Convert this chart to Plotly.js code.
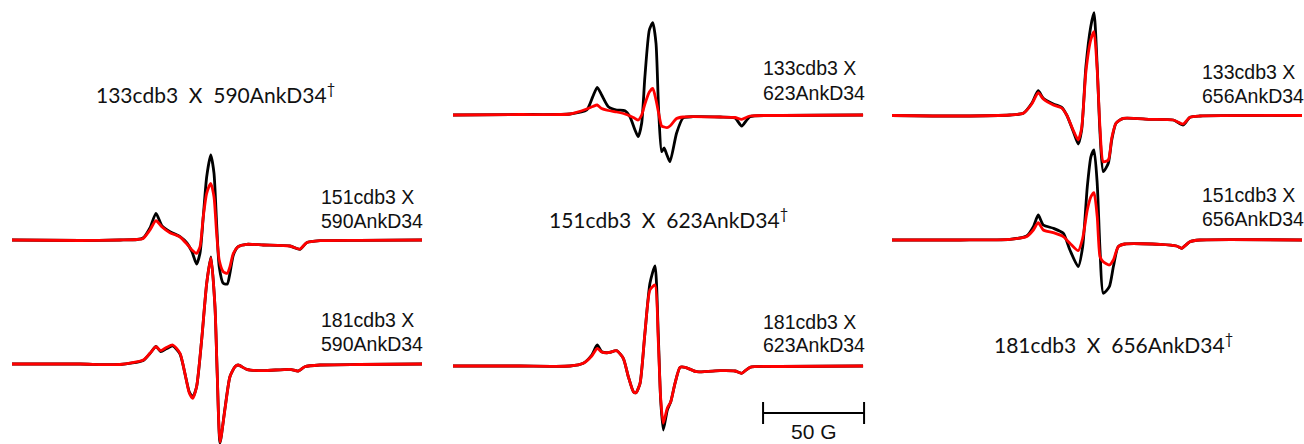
<!DOCTYPE html>
<html><head><meta charset="utf-8">
<script src="https://cdn.plot.ly/plotly-3.0.1.min.js"></script>
<style>html,body{margin:0;padding:0;background:#fff;overflow:hidden;} #chart{width:1304px;height:444px;}</style>
</head><body><div id="chart"></div>
<script>
// ---- Data: magnetic field (G) and EPR derivative intensity (a.u.) ----
// Column 1 : 590AnkD34
const field151x590 = [3260.0, 3293.7, 3313.5, 3321.9, 3324.9, 3328.3, 3331.3, 3334.3, 3338.2, 3343.2, 3346.6, 3349.1, 3351.4, 3353.1, 3354.7, 3356.4, 3358.4, 3360.0, 3361.3, 3362.6, 3364.6, 3366.6, 3367.9, 3369.6, 3372.0, 3376.2, 3384.4, 3397.6, 3402.6, 3405.9, 3412.5, 3432.3, 3463.0];
const black151x590 = [0, -0.5, 0, 0.5, 2, 12, 26.7, 14, 8.3, 3.3, -3, -11.7, -24, -13, 23.3, 63.3, 85, 67, 17, -26.7, -43.3, -44, -33.3, -15, -6.7, -4.3, -5, -6, -9.3, -2.7, -0.7, -0.3, 0];
const red151x590   = [0, -0.5, 0, 0.5, 1.5, 10, 19.3, 13, 7.3, 3, -4, -10, -13.3, -6.7, 23.3, 46.7, 56.7, 43.3, 7, -20, -31.7, -33.3, -26.7, -13.3, -6.7, -4.3, -5, -6, -9, -2.7, -0.7, -0.3, 0];

const field181x590 = [3260.0, 3293.7, 3313.5, 3325.0, 3328.3, 3331.3, 3333.6, 3336.6, 3339.6, 3343.2, 3345.6, 3347.8, 3349.5, 3351.4, 3353.9, 3356.4, 3358.5, 3360.5, 3361.6, 3363.0, 3365.4, 3367.9, 3370.4, 3372.0, 3376.2, 3384.4, 3397.6, 3401.7, 3405.0, 3412.5, 3432.3, 3463.0];
const black181x590 = [0, 0, -0.5, 3.5, 10.5, 17.5, 12.5, 15.5, 18, 10, -9.3, -28, -33, -22.7, 24, 80.7, 107, 57.3, -9.3, -79, -45, -12.7, -2.7, -1, -5.3, -6.7, -5.3, -7, -2.7, -1, -0.5, 0];
const red181x590   = [0, 0, -0.5, 4, 10.7, 17.3, 13.3, 16.7, 19, 10.7, -9.3, -29.3, -34.3, -22.7, 24, 80.7, 106, 57.3, -9.3, -78, -46, -12.7, -2.7, -1, -5.3, -6.7, -5.3, -7, -2.7, -1, -0.5, 0];

// Column 2 : 623AnkD34
const field133x623 = [3260.0, 3293.2, 3317.9, 3326.2, 3329.2, 3331.4, 3333.6, 3336.9, 3341.0, 3345.1, 3347.6, 3350.1, 3351.7, 3353.4, 3355.0, 3357.2, 3358.9, 3360.5, 3361.8, 3363.3, 3364.5, 3365.9, 3367.4, 3370.7, 3373.9, 3378.8, 3392.2, 3399.6, 3402.9, 3407.0, 3421.9, 3463.0];
const black133x623 = [0, 0.5, 1, 5, 18.3, 27.7, 20, 8.3, 5, 4.3, -1.7, -15, -21.7, -8.3, 38.3, 85, 92.3, 71.7, 5, -36.7, -33, -40, -46.7, -18, -3, -1.7, -2, -3, -11, -1.7, -0.5, 0];
const red133x623   = [0, 0.5, 1, 6, 8.5, 10, 6.5, 4.5, 3, 1, -1, -3.5, -5, 0, 11, 23, 26.7, 15, 2, -11, -12, -12.7, -11, -3.5, -2, -1.7, -2, -2.5, -4.3, -1, -0.5, 0];

const field181x623 = [3260.0, 3293.2, 3317.9, 3324.5, 3328.7, 3331.4, 3333.6, 3336.9, 3341.0, 3344.3, 3346.8, 3349.3, 3350.6, 3352.6, 3355.0, 3357.5, 3360.0, 3361.6, 3362.8, 3364.1, 3366.1, 3367.8, 3369.9, 3372.4, 3374.9, 3380.6, 3392.2, 3399.6, 3402.9, 3407.0, 3421.9, 3463.0];
const black181x623 = [0, 0, 0, 2.7, 11, 21, 14.3, 13.3, 15.3, 7.7, -10.7, -25.7, -26.7, -17.3, 32.7, 82.7, 100, 32.7, -34, -64, -44, -35.7, -17.3, -1.3, -1.3, -5.7, -4.7, -5, -7.3, -1.3, -0.5, 0];
const red181x623   = [0, 0, 0, 2.7, 10, 17.7, 14, 13.3, 15.3, 7.7, -10.7, -25.7, -26.7, -17.3, 32.7, 76, 81, 26, -32, -57.3, -42, -35.7, -17.3, -1.3, -1.3, -5.7, -4.7, -5, -7.3, -1.3, -0.5, 0];

// Column 3 : 656AnkD34
const field133x656 = [3260.0, 3293.7, 3318.4, 3325.0, 3329.2, 3332.4, 3334.9, 3339.9, 3344.0, 3346.5, 3349.8, 3352.2, 3353.9, 3356.0, 3358.4, 3360.0, 3361.6, 3363.0, 3364.6, 3367.1, 3368.8, 3370.9, 3374.5, 3387.7, 3399.3, 3404.2, 3407.5, 3412.5, 3463.0];
const black133x656 = [0, -0.5, 0.5, 2.2, 12.2, 24.8, 17.2, 11.5, 8.2, 0.5, -16.2, -28.5, -14.5, 48.8, 88.8, 102.8, 48.8, -17.8, -56.2, -47.8, -24.5, -7.8, -2.8, -3.8, -4.5, -9.5, -1.8, -0.5, 0];
const red133x656   = [0, -0.5, 0.5, 2.2, 11.5, 22.8, 16.5, 10.5, 7.5, 0.5, -15, -24.5, -12.5, 43.5, 75.5, 83.8, 45.5, -12.5, -46.2, -44.5, -22.5, -7.8, -2.8, -3.8, -4.5, -8.5, -1.8, -0.5, 0];

const field151x656 = [3260.0, 3293.7, 3318.4, 3326.7, 3330.0, 3332.4, 3334.9, 3339.9, 3344.8, 3348.1, 3352.2, 3354.4, 3356.7, 3358.5, 3360.0, 3361.6, 3363.0, 3364.6, 3367.6, 3369.6, 3372.0, 3375.3, 3392.7, 3400.9, 3403.4, 3407.5, 3412.5, 3463.0];
const black151x656 = [0, 0, 0.7, 4, 13.3, 25, 15, 11.7, 6.7, -10, -26.7, -6.7, 53.3, 83.3, 90, 56.7, -10, -53.3, -46.7, -26.7, -6.7, -4, -4.3, -6, -8.3, -1.7, 0, 0];
const red151x656   = [0, 0, 0.7, 3.5, 10, 17.3, 10, 7.3, 3.3, -3.3, -10.7, 1.7, 30, 43.3, 47.3, 23.3, -16.7, -21.7, -25, -20, -6.7, -4, -4.3, -6, -8.3, -1.7, 0, 0];

// Labels
const labelLine1 = ['151cdb3 X', '181cdb3 X', '133cdb3 X', '181cdb3 X', '133cdb3 X', '151cdb3 X'];
const labelLine2 = ['590AnkD34', '590AnkD34', '623AnkD34', '623AnkD34', '656AnkD34', '656AnkD34'];
const emptyLabels = ['133cdb3  X  590AnkD34', '151cdb3  X  623AnkD34', '181cdb3  X  656AnkD34'];
const scaleBarField = [3413.5, 3463.5];
const scaleBarText = '50 G';

// ---- Layout helpers (pixel -> paper) ----
const W = 1304, H = 444;
const px = x => x / W;
const py = y => 1 - y / H;

// panel config: axes, baseline pixel row, label position
const panels = [
  {f: field151x590, k: black151x590, r: red151x590, xa: 'x',  ya: 'y',  base: 240,   lx: 320,    l1: 196.5, l2: 221},
  {f: field181x590, k: black181x590, r: red181x590, xa: 'x',  ya: 'y2', base: 364,   lx: 320,    l1: 320,   l2: 344},
  {f: field133x623, k: black133x623, r: red133x623, xa: 'x2', ya: 'y3', base: 115,   lx: 761.5,  l1: 68,    l2: 92.5},
  {f: field181x623, k: black181x623, r: red181x623, xa: 'x2', ya: 'y4', base: 366,   lx: 761.5,  l1: 321.5, l2: 345},
  {f: field133x656, k: black133x656, r: red133x656, xa: 'x3', ya: 'y5', base: 115.5, lx: 1200.5, l1: 72.5,  l2: 96},
  {f: field151x656, k: black151x656, r: red151x656, xa: 'x3', ya: 'y6', base: 240,   lx: 1200.5, l1: 195,   l2: 219}
];

const traces = [];
panels.forEach(p => {
  traces.push({x: p.f, y: p.k, xaxis: p.xa, yaxis: p.ya, type: 'scatter', mode: 'lines',
    line: {color: '#000000', width: 2.8, shape: 'spline', smoothing: 0.6}, hoverinfo: 'skip', showlegend: false});
  traces.push({x: p.f, y: p.r, xaxis: p.xa, yaxis: p.ya, type: 'scatter', mode: 'lines',
    line: {color: '#ff0000', width: 2.8, shape: 'spline', smoothing: 0.6}, hoverinfo: 'skip', showlegend: false});
});

const hidden = {visible: false, showgrid: false, zeroline: false, fixedrange: true};
const layout = {
  width: W, height: H, autosize: false,
  margin: {l: 0, r: 0, t: 0, b: 0, pad: 0},
  paper_bgcolor: '#ffffff', plot_bgcolor: 'rgba(0,0,0,0)',
  showlegend: false,
  xaxis:  Object.assign({}, hidden, {domain: [px(12),  px(422)],   range: [3260, 3463], anchor: 'y'}),
  xaxis2: Object.assign({}, hidden, {domain: [px(453), px(867.1)], range: [3260, 3465], anchor: 'y3'}),
  xaxis3: Object.assign({}, hidden, {domain: [px(892), px(1302)],  range: [3260, 3463], anchor: 'y5'}),
  annotations: [], shapes: []
};
const yNames = ['yaxis', 'yaxis2', 'yaxis3', 'yaxis4', 'yaxis5', 'yaxis6'];
const overl = [null, 'y', null, 'y3', null, 'y5'];
panels.forEach((p, i) => {
  const ax = Object.assign({}, hidden, {domain: [0, 1], range: [p.base - H, p.base], anchor: p.xa});
  if (overl[i]) ax.overlaying = overl[i];
  layout[yNames[i]] = ax;
  const fnt = {family: 'Liberation Sans, Arial, sans-serif', size: 19.5, color: '#111111'};
  layout.annotations.push({xref: 'paper', yref: 'paper', x: px(p.lx - 1), y: py(p.l1), xanchor: 'left', yanchor: 'middle',
    text: labelLine1[i], showarrow: false, font: fnt});
  layout.annotations.push({xref: 'paper', yref: 'paper', x: px(p.lx - 1), y: py(p.l2), xanchor: 'left', yanchor: 'middle',
    text: labelLine2[i], showarrow: false, font: fnt});
});

// Titles of panels without spectra (Calibri-like, with dagger)
const emptyPos = [[95, 103.3], [548, 228], [993, 353.3]];
emptyLabels.forEach((t, i) => {
  layout.annotations.push({xref: 'paper', yref: 'paper', x: px(emptyPos[i][0] - 1), y: py(emptyPos[i][1] + 5.5),
    xanchor: 'left', yanchor: 'bottom', showarrow: false,
    text: t.replace(/ /g, '\u00a0') + '<sup>†</sup>',
    font: {family: 'Lato, Noto Sans, sans-serif', size: 21, color: '#111111'}});
});

// Scale bar
const barY = 413, tickTop = 402, tickBot = 424;
layout.shapes.push({type: 'line', xref: 'x2', yref: 'paper', x0: scaleBarField[0], x1: scaleBarField[1], y0: py(barY), y1: py(barY), line: {color: '#000', width: 2}});
layout.shapes.push({type: 'line', xref: 'x2', yref: 'paper', x0: scaleBarField[0], x1: scaleBarField[0], y0: py(tickTop), y1: py(tickBot), line: {color: '#000', width: 2}});
layout.shapes.push({type: 'line', xref: 'x2', yref: 'paper', x0: scaleBarField[1], x1: scaleBarField[1], y0: py(tickTop), y1: py(tickBot), line: {color: '#000', width: 2}});
layout.annotations.push({xref: 'x2', yref: 'paper', x: (scaleBarField[0] + scaleBarField[1]) / 2, y: py(431.7), xanchor: 'center', yanchor: 'middle',
  text: scaleBarText, showarrow: false, font: {family: 'Liberation Sans, Arial, sans-serif', size: 21, color: '#111111'}});

Plotly.newPlot('chart', traces, layout, {staticPlot: true, displayModeBar: false});
</script>
</body></html>
